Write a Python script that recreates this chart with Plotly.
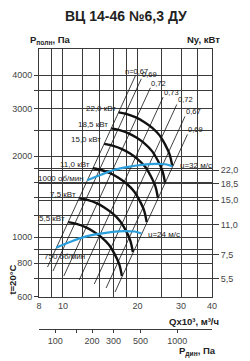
import math
import plotly.graph_objects as go

# ---------------- axis ticks ----------------
q_grid = [8, 9, 10, 12, 14, 16, 18, 20, 25, 30, 35, 40]
q_text = ["8", "", "10", "", "", "", "", "20", "", "30", "", "40"]
p_grid = [600, 700, 800, 900, 1000, 1200, 1400, 1600, 1800, 2000, 2500, 3000, 3500, 4000]
p_text = ["600", "", "800", "", "1000", "", "", "", "", "2000", "", "3000", "", "4000"]
n_ticks = [5.5, 7.5, 11, 15, 18.5, 22]
n_text = ["5,5", "7,5", "11,0", "15,0", "18,5", "22,0"]
pd_ticks = [100, 150, 200, 300, 500, 1000]
pd_text = ["100", "", "200", "300", "500", "1000"]

# ---------------- efficiency lines (Q x1000 m3/h, P Pa) ----------------
eta_labels = ["n=0,67", "0,69", "0,72", "0,73", "0,72", "0,67", "0,69"]
eta_q_top = [19.64, 20.72, 22.55, 25.39, 28.83, 31.11, 31.83]
eta_p_top = [3986, 3875, 3588, 3313, 3112, 2810, 2409]
eta_q_bot = [8.66, 9.11, 10.08, 11.63, 13.38, 14.94, 16.23]
eta_p_bot = [775, 749, 718, 694, 670, 648, 626]

# ---------------- fan curves by motor power ----------------
power_labels = ["22,0 кВт", "18,5 кВт", "15,0 кВт", "11,0 кВт", "7,5 кВт", "5,5 кВт"]
q_22 = [16.78, 18.26, 19.71, 21.27, 22.95, 24.56, 25.84, 26.96, 27.65]
p_22 = [2907, 2858, 2786, 2681, 2547, 2389, 2213, 2032, 1834]
q_185 = [15.67, 17.06, 18.41, 19.87, 21.44, 22.94, 24.13, 25.18, 25.83]
p_185 = [2536, 2493, 2430, 2339, 2222, 2084, 1931, 1773, 1600]
q_15 = [14.67, 15.97, 17.23, 18.60, 20.07, 21.48, 22.59, 23.57, 24.18]
p_15 = [2223, 2185, 2130, 2050, 1947, 1827, 1692, 1554, 1402]
q_11 = [13.22, 14.38, 15.53, 16.75, 18.08, 19.35, 20.35, 21.24, 21.78]
p_11 = [1804, 1773, 1728, 1663, 1580, 1482, 1373, 1261, 1138]
q_75 = [11.63, 12.65, 13.66, 14.74, 15.90, 17.02, 17.91, 18.68, 19.16]
p_75 = [1396, 1373, 1338, 1288, 1223, 1147, 1063, 976, 881]
q_55 = [10.50, 11.42, 12.33, 13.31, 14.36, 15.36, 16.17, 16.87, 17.30]
p_55 = [1138, 1119, 1090, 1049, 997, 935, 866, 795, 718]

# ---------------- rpm curves ----------------
q_1000 = [12.53, 14.23, 16.16, 18.35, 20.84, 23.66, 25.97, 27.65]
p_1000 = [1627, 1706, 1780, 1826, 1857, 1873, 1866, 1834]
q_750 = [9.40, 10.67, 12.12, 13.76, 15.63, 17.75, 19.48, 20.74]
p_750 = [915, 960, 1001, 1027, 1045, 1054, 1050, 1032]

GRID = "#3a3a3a"
TXT = "#222222"
FONT = "Liberation Sans, Arial, sans-serif"
BLUE = "#2a9fdc"

fig = go.Figure()

for i in range(len(eta_labels)):
    fig.add_trace(go.Scatter(x=[eta_q_bot[i], eta_q_top[i]], y=[eta_p_bot[i], eta_p_top[i]],
                             mode="lines", line=dict(color="#111", width=0.8),
                             hoverinfo="skip", showlegend=False))

black_q = [q_22, q_185, q_15, q_11, q_75, q_55]
black_p = [p_22, p_185, p_15, p_11, p_75, p_55]
for qs, ps in zip(black_q, black_p):
    fig.add_trace(go.Scatter(x=qs, y=ps, mode="lines", line=dict(color="#111", width=2.4, shape="spline"),
                             hoverinfo="skip", showlegend=False))

for qs, ps in [(q_1000, p_1000), (q_750, p_750)]:
    fig.add_trace(go.Scatter(x=qs, y=ps, mode="lines", line=dict(color=BLUE, width=2.2, shape="spline"),
                             hoverinfo="skip", showlegend=False))

# invisible trace so that the secondary axes are drawn
fig.add_trace(go.Scatter(x=pd_ticks[:1], y=n_ticks[:1], xaxis="x2", yaxis="y2", mode="markers",
                         marker=dict(opacity=0), hoverinfo="skip", showlegend=False))

ann = []
small = dict(family=FONT, size=8, color=TXT)
for i, lab in enumerate(eta_labels):
    ann.append(dict(x=math.log10(eta_q_top[i]), y=math.log10(eta_p_top[i]), xref="x", yref="y",
                    text=lab, showarrow=False, xanchor="left", yanchor="bottom",
                    xshift=(-13 if i == 0 else -1), yshift=-2, font=dict(family=FONT, size=7.5, color=TXT)))
for lab, qs, ps in zip(power_labels, black_q, black_p):
    ann.append(dict(x=math.log10(qs[0]), y=math.log10(ps[0]), xref="x", yref="y", text=lab,
                    showarrow=False, xanchor="right", yanchor="middle", xshift=-1, yshift=4, font=small))
ann.append(dict(x=math.log10(q_1000[0]), y=math.log10(p_1000[0]), xref="x", yref="y", text="1000 об/мин",
                showarrow=False, xanchor="right", yanchor="middle", xshift=-1, yshift=2, font=small))
ann.append(dict(x=math.log10(q_750[0]), y=math.log10(p_750[0]), xref="x", yref="y", text="750 об/мин",
                showarrow=False, xanchor="left", yanchor="top", xshift=-14, yshift=-2, font=small))
ann.append(dict(x=math.log10(q_1000[-1]), y=math.log10(p_1000[-1]), xref="x", yref="y", text="u=32 м/с",
                showarrow=False, xanchor="left", yanchor="middle", xshift=6, yshift=1, font=small))
ann.append(dict(x=math.log10(q_750[-1]), y=math.log10(p_750[-1]), xref="x", yref="y", text="u=24 м/с",
                showarrow=False, xanchor="left", yanchor="middle", xshift=5, yshift=-1, font=small))

bold = dict(family=FONT, size=9.5, color=TXT)
ann += [
    dict(x=0.5, y=1.1154, xref="paper", yref="paper", text="<b>ВЦ 14-46 №6,3 ДУ</b>", showarrow=False,
         xanchor="center", yanchor="middle", font=dict(family=FONT, size=14, color=TXT)),
    dict(x=-0.063, y=1.0315, xref="paper", yref="paper", text="<b>P<sub>полн</sub>, Па</b>", showarrow=False,
         xanchor="left", yanchor="middle", font=bold),
    dict(x=1.058, y=1.0315, xref="paper", yref="paper", text="<b>Ny, кВт</b>", showarrow=False,
         xanchor="right", yanchor="middle", font=bold),
    dict(x=1.053, y=0.0455, xref="paper", yref="paper", text="<b>Qx10³, м³/ч</b>", showarrow=False,
         xanchor="right", yanchor="middle", font=bold),
    dict(x=1.032, y=-0.0594, xref="paper", yref="paper", text="<b>P<sub>дин</sub>, Па</b>", showarrow=False,
         xanchor="right", yanchor="middle", font=bold),
    dict(x=-0.153, y=0.192, xref="paper", yref="paper", text="<b>t=20°C</b>", showarrow=False,
         textangle=-90, xanchor="center", yanchor="middle", font=bold),
]

tickfont = dict(family=FONT, size=9, color="#444")
fig.update_layout(
    width=250, height=361,
    margin=dict(l=37, r=23, t=49, b=26),
    paper_bgcolor="white", plot_bgcolor="white",
    showlegend=False,
    annotations=ann,
    xaxis=dict(type="log", range=[math.log10(8), math.log10(40)], autorange=False,
               tickvals=q_grid, ticktext=q_text,
               showgrid=True, gridcolor=GRID, gridwidth=1, showline=True, linecolor=GRID, linewidth=1,
               mirror=True, ticks="", tickfont=tickfont, zeroline=False, domain=[0, 1], anchor="y"),
    yaxis=dict(type="log", range=[math.log10(600), math.log10(5000)], autorange=False, domain=[0.1329, 1],
               tickvals=p_grid, ticktext=p_text, showgrid=True, gridcolor=GRID, gridwidth=1,
               showline=True, linecolor=GRID, linewidth=1, mirror=True, ticks="outside", ticklen=4,
               tickcolor=GRID, tickfont=tickfont, zeroline=False),
    yaxis2=dict(type="log", overlaying="y", side="right", anchor="x", range=[0.6407, 2.011], autorange=False,
                tickvals=n_ticks, ticktext=n_text, ticks="outside", ticklen=6, tickcolor=GRID,
                showgrid=True, gridcolor=GRID, gridwidth=1, showline=False, tickfont=tickfont,
                zeroline=False),
    xaxis2=dict(type="log", overlaying="x", anchor="free", position=0.0199, side="bottom",
                range=[1.866, 3.284], autorange=False, tickvals=pd_ticks, ticktext=pd_text,
                ticks="outside", ticklen=3,
                tickcolor=GRID, showline=True, linecolor=GRID, linewidth=1, showgrid=False,
                tickfont=tickfont, zeroline=False),
)

fig.write_html("out.html")
